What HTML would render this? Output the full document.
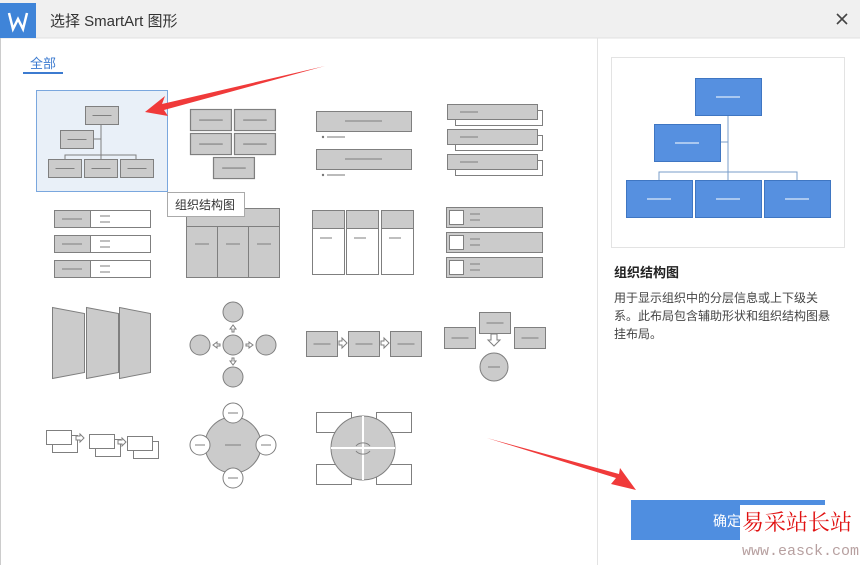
<!DOCTYPE html>
<html><head><meta charset="utf-8"><style>
html,body{margin:0;padding:0;background:#fff;width:860px;height:565px;overflow:hidden;font-family:"Liberation Sans","Noto Sans CJK SC",sans-serif}
</style></head><body>
<svg width="860" height="565" xmlns="http://www.w3.org/2000/svg" font-family="Liberation Sans, Noto Sans CJK SC, sans-serif">
<defs>
<g id="r"><rect width="33" height="18" fill="#cbcbcb" stroke="#7f7f7f"/><line x1="7" y1="9" x2="26" y2="9" stroke="#7f7f7f"/></g>
<g id="p"><rect width="31" height="25" fill="#cbcbcb" stroke="#7f7f7f"/><line x1="7" y1="12.5" x2="24" y2="12.5" stroke="#7f7f7f"/></g>
<g id="q"><rect width="31" height="21" fill="#cbcbcb" stroke="#7f7f7f"/><line x1="7" y1="10.5" x2="24" y2="10.5" stroke="#7f7f7f"/></g>
</defs>
<rect x="0" y="0" width="860" height="38" fill="#f0f0f0"/>
<line x1="0" y1="38" x2="860" y2="38" stroke="#e0e0e0"/>
<rect x="0" y="3" width="36" height="35" fill="#3f84d8"/>
<path d="M9 13 L13 29 L18 19 L23 29 L27 13" stroke="#fff" stroke-width="2.5" fill="none"/>
<text x="50" y="26" font-size="15" fill="#333">选择 SmartArt 图形</text>
<path d="M837 14 L847 24 M847 14 L837 24" stroke="#444" stroke-width="1.6"/>
<line x1="0.5" y1="38" x2="0.5" y2="565" stroke="#ccc"/>
<line x1="597.5" y1="38" x2="597.5" y2="565" stroke="#e3e3e3"/>
<text x="30" y="68" font-size="13" fill="#3c7bd0">全部</text>
<rect x="23" y="72" width="40" height="2" fill="#3c7bd0"/>

<rect x="36.5" y="90.5" width="131" height="101" fill="#e9f0f8" stroke="#7aa7de"/>
<line x1="101" y1="123" x2="101" y2="155" stroke="#7f7f7f"/><line x1="93" y1="139" x2="101" y2="139" stroke="#7f7f7f"/>
<path d="M65 159 V155 H136 V159 M101 155 V159" stroke="#7f7f7f" fill="none"/>
<use href="#r" x="85.5" y="106.5"/><use href="#r" x="60.5" y="130.5"/>
<use href="#r" x="48.5" y="159.5"/><use href="#r" x="84.5" y="159.5"/><use href="#r" x="120.5" y="159.5"/>
<g transform="translate(190.5,109.5) scale(1.24,1.17)"><use href="#r"/></g>
<g transform="translate(234.5,109.5) scale(1.24,1.17)"><use href="#r"/></g>
<g transform="translate(190.5,133.5) scale(1.24,1.17)"><use href="#r"/></g>
<g transform="translate(234.5,133.5) scale(1.24,1.17)"><use href="#r"/></g>
<g transform="translate(213.5,157.5) scale(1.24,1.17)"><use href="#r"/></g>
<rect x="316.5" y="111.5" width="95" height="20" fill="#cbcbcb" stroke="#7f7f7f"/><line x1="345" y1="121" x2="382" y2="121" stroke="#7f7f7f"/>
<circle cx="323" cy="137" r="1.2" fill="#777"/><line x1="327" y1="137" x2="345" y2="137" stroke="#777"/>
<rect x="316.5" y="149.5" width="95" height="20" fill="#cbcbcb" stroke="#7f7f7f"/><line x1="345" y1="159" x2="382" y2="159" stroke="#7f7f7f"/>
<circle cx="323" cy="175" r="1.2" fill="#777"/><line x1="327" y1="175" x2="345" y2="175" stroke="#777"/>
<g stroke="#7f7f7f">
<rect x="455.5" y="110.5" width="87" height="15" fill="#fff"/><rect x="447.5" y="104.5" width="90" height="15" fill="#cbcbcb"/><line x1="460" y1="112" x2="478" y2="112"/>
<rect x="455.5" y="135.5" width="87" height="15" fill="#fff"/><rect x="447.5" y="129.5" width="90" height="15" fill="#cbcbcb"/><line x1="460" y1="137" x2="478" y2="137"/>
<rect x="455.5" y="160.5" width="87" height="15" fill="#fff"/><rect x="447.5" y="154.5" width="90" height="15" fill="#cbcbcb"/><line x1="460" y1="162" x2="478" y2="162"/>
</g>

<g stroke="#7f7f7f">
<rect x="90.5" y="210.5" width="60" height="17" fill="#fff"/><rect x="54.5" y="210.5" width="36" height="17" fill="#cbcbcb"/><line x1="62" y1="219" x2="82" y2="219"/><line x1="100" y1="216" x2="110" y2="216"/><line x1="100" y1="222" x2="110" y2="222"/>
<rect x="90.5" y="235.5" width="60" height="17" fill="#fff"/><rect x="54.5" y="235.5" width="36" height="17" fill="#cbcbcb"/><line x1="62" y1="244" x2="82" y2="244"/><line x1="100" y1="241" x2="110" y2="241"/><line x1="100" y1="247" x2="110" y2="247"/>
<rect x="90.5" y="260.5" width="60" height="17" fill="#fff"/><rect x="54.5" y="260.5" width="36" height="17" fill="#cbcbcb"/><line x1="62" y1="269" x2="82" y2="269"/><line x1="100" y1="266" x2="110" y2="266"/><line x1="100" y1="272" x2="110" y2="272"/>
<rect x="186.5" y="208.5" width="93" height="69" fill="#cbcbcb"/><line x1="186" y1="226.5" x2="280" y2="226.5"/><line x1="217.5" y1="226" x2="217.5" y2="277"/><line x1="248.5" y1="226" x2="248.5" y2="277"/>
<line x1="195" y1="244" x2="209" y2="244"/><line x1="226" y1="244" x2="240" y2="244"/><line x1="257" y1="244" x2="271" y2="244"/>
<rect x="312.5" y="210.5" width="32" height="64" fill="#fff"/><rect x="312.5" y="210.5" width="32" height="18" fill="#cbcbcb"/>
<rect x="346.5" y="210.5" width="32" height="64" fill="#fff"/><rect x="346.5" y="210.5" width="32" height="18" fill="#cbcbcb"/>
<rect x="381.5" y="210.5" width="32" height="64" fill="#fff"/><rect x="381.5" y="210.5" width="32" height="18" fill="#cbcbcb"/>
<line x1="320" y1="238" x2="332" y2="238"/><line x1="354" y1="238" x2="366" y2="238"/><line x1="389" y1="238" x2="401" y2="238"/>
<rect x="446.5" y="207.5" width="96" height="20" fill="#cbcbcb"/><rect x="449.5" y="210.5" width="14" height="14" fill="#fff"/><line x1="470" y1="214" x2="480" y2="214"/><line x1="470" y1="220" x2="480" y2="220"/>
<rect x="446.5" y="232.5" width="96" height="20" fill="#cbcbcb"/><rect x="449.5" y="235.5" width="14" height="14" fill="#fff"/><line x1="470" y1="239" x2="480" y2="239"/><line x1="470" y1="245" x2="480" y2="245"/>
<rect x="446.5" y="257.5" width="96" height="20" fill="#cbcbcb"/><rect x="449.5" y="260.5" width="14" height="14" fill="#fff"/><line x1="470" y1="264" x2="480" y2="264"/><line x1="470" y1="270" x2="480" y2="270"/>

<path d="M52.5 307.5 L84.5 313.5 L84.5 372.5 L52.5 378.5 Z" fill="#cbcbcb"/>
<path d="M86.5 307.5 L118.5 313.5 L118.5 372.5 L86.5 378.5 Z" fill="#cbcbcb"/>
<path d="M119.5 307.5 L150.5 313.5 L150.5 372.5 L119.5 378.5 Z" fill="#cbcbcb"/>
<circle cx="233" cy="312" r="10" fill="#cbcbcb"/><circle cx="233" cy="377" r="10" fill="#cbcbcb"/>
<circle cx="200" cy="345" r="10" fill="#cbcbcb"/><circle cx="266" cy="345" r="10" fill="#cbcbcb"/>
<circle cx="233" cy="345" r="10" fill="#cbcbcb"/>
<path d="M233 325 l-3 4 h2 v3 h2 v-3 h2 z M233 365 l-3 -4 h2 v-3 h2 v3 h2 z M213 345 l4 -3 v2 h3 v2 h-3 v2 z M253 345 l-4 -3 v2 h-3 v2 h3 v2 z" fill="#fff"/>
<use href="#p" x="306.5" y="331.5"/><use href="#p" x="348.5" y="331.5"/><use href="#p" x="390.5" y="331.5"/>
<path d="M339 341 h3 v-3 l5 5 l-5 5 v-3 h-3 z M381 341 h3 v-3 l5 5 l-5 5 v-3 h-3 z" fill="#fff"/>
<use href="#q" x="479.5" y="312.5"/><use href="#q" x="444.5" y="327.5"/><use href="#q" x="514.5" y="327.5"/>
<circle cx="494" cy="367" r="14" fill="#cbcbcb"/><line x1="488" y1="367" x2="500" y2="367"/>
<path d="M491 334 v6 h-3 l6 6 l6 -6 h-3 v-6 z" fill="#fff"/>

<rect x="52.5" y="435.5" width="25" height="17" fill="#fff"/><rect x="46.5" y="430.5" width="25" height="14" fill="#fff"/>
<rect x="95.5" y="439.5" width="25" height="17" fill="#fff"/><rect x="89.5" y="434.5" width="25" height="14" fill="#fff"/>
<rect x="133.5" y="441.5" width="25" height="17" fill="#fff"/><rect x="127.5" y="436.5" width="25" height="14" fill="#fff"/>
<path d="M76 436 h4 v-2 l4 4 l-4 4 v-2 h-4 z M118 440 h4 v-2 l4 4 l-4 4 v-2 h-4 z" fill="#fff"/>
<circle cx="233" cy="445" r="28" fill="#cbcbcb"/><line x1="225" y1="445" x2="241" y2="445"/>
<circle cx="233" cy="413" r="10" fill="#fff"/><circle cx="233" cy="478" r="10" fill="#fff"/>
<circle cx="200" cy="445" r="10" fill="#fff"/><circle cx="266" cy="445" r="10" fill="#fff"/>
<line x1="228" y1="413" x2="238" y2="413"/><line x1="228" y1="478" x2="238" y2="478"/><line x1="195" y1="445" x2="205" y2="445"/><line x1="261" y1="445" x2="271" y2="445"/>
<rect x="316.5" y="412.5" width="35" height="20" fill="#fff"/><rect x="376.5" y="412.5" width="35" height="20" fill="#fff"/>
<rect x="316.5" y="464.5" width="35" height="20" fill="#fff"/><rect x="376.5" y="464.5" width="35" height="20" fill="#fff"/>
<circle cx="363" cy="448" r="32" fill="#cbcbcb"/>
<line x1="363" y1="416" x2="363" y2="480" stroke="#fff" stroke-width="2"/><line x1="331" y1="448" x2="395" y2="448" stroke="#fff" stroke-width="2"/>
<path d="M356 446 a8 6 0 0 1 14 0 M356 451 a8 6 0 0 0 14 0" fill="none"/>
</g>
<rect x="167.5" y="192.5" width="77" height="24" fill="#fff" stroke="#aaa"/>
<text x="175" y="209" font-size="12" fill="#333">组织结构图</text>

<rect x="611.5" y="57.5" width="233" height="190" fill="#fff" stroke="#e3e3e3"/>
<g stroke="#7a9ec8" fill="none"><line x1="728" y1="115" x2="728" y2="172"/><line x1="720" y1="142" x2="728" y2="142"/><path d="M659 180 V172 H797 V180 M728 172 V180"/></g>
<g fill="#5690e0" stroke="#3f76c2">
<rect x="695.5" y="78.5" width="66" height="37"/><rect x="654.5" y="124.5" width="66" height="37"/>
<rect x="626.5" y="180.5" width="66" height="37"/><rect x="695.5" y="180.5" width="66" height="37"/><rect x="764.5" y="180.5" width="66" height="37"/>
</g>
<g stroke="#fff"><line x1="716" y1="97" x2="740" y2="97"/><line x1="675" y1="143" x2="699" y2="143"/><line x1="647" y1="199" x2="671" y2="199"/><line x1="716" y1="199" x2="740" y2="199"/><line x1="785" y1="199" x2="809" y2="199"/></g>
<text x="614" y="277" font-size="13" font-weight="bold" fill="#222">组织结构图</text>
<text x="614" y="302" font-size="12" fill="#444">用于显示组织中的分层信息或上下级关</text>
<text x="614" y="320" font-size="12" fill="#444">系。此布局包含辅助形状和组织结构图悬</text>
<text x="614" y="338" font-size="12" fill="#444">挂布局。</text>

<rect x="631" y="500" width="194" height="40" fill="#4f8ee0"/>
<text x="713" y="526" font-size="14" fill="#fff">确定</text>
<rect x="740" y="505" width="120" height="60" fill="#fff"/>
<text x="742" y="530" font-size="22" fill="#e01010" font-family="Liberation Serif, Noto Serif CJK SC, serif">易采站长站</text>
<text x="742" y="555" font-size="15" fill="#b7a0a0" font-family="Liberation Mono, monospace">www.easck.com</text>

<path d="M325 66 L162 104 L165 96 L145 112 L168 116 L164 110 Z" fill="#f03a3a"/>
<path d="M487 438 L616 478 L611 484 L636 490 L620 468 L619 474 Z" fill="#f03a3a"/>
</svg>
</body></html>
